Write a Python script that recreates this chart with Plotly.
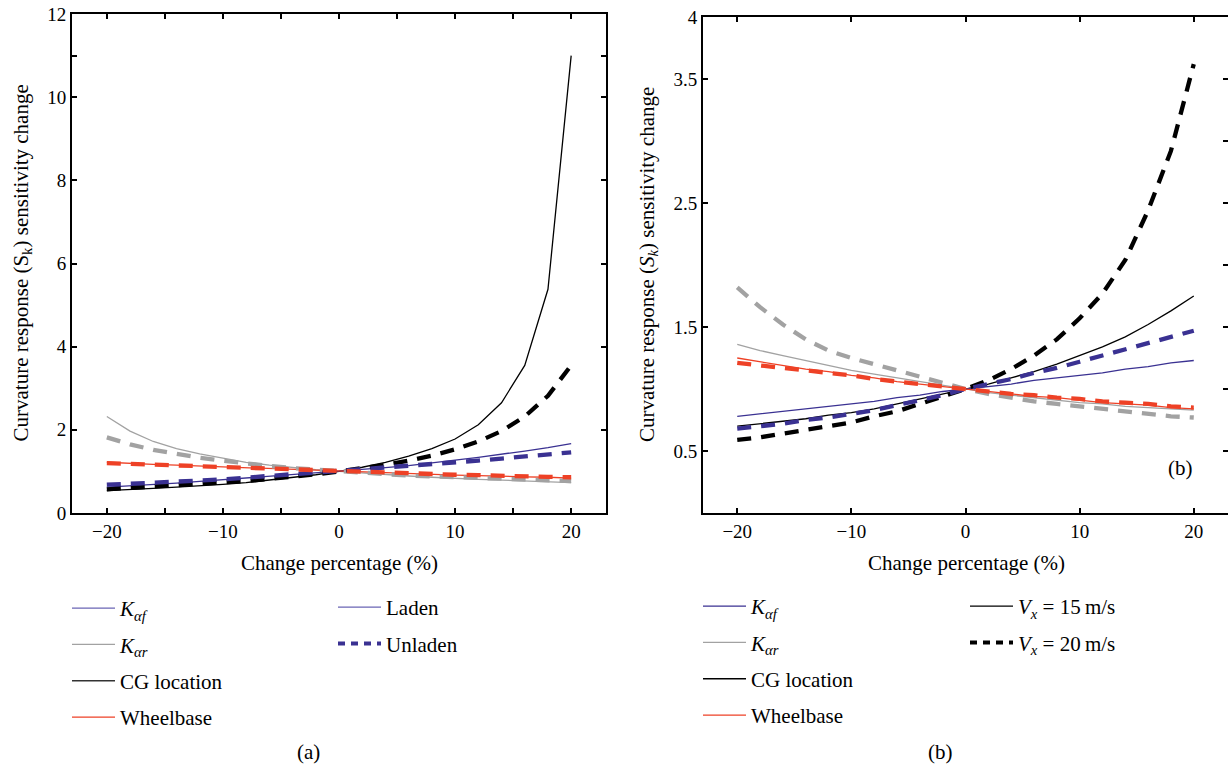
import plotly.graph_objects as go

W, H = 1228, 769
FONT = "Liberation Serif, Times New Roman, serif"

# ---------------- data ----------------
x_pct = [-20, -18, -16, -14, -12, -10, -8, -6, -4, -2, 0, 2, 4, 6, 8, 10, 12, 14, 16, 18, 20]

# (a) laden (solid) / unladen (dashed)
a_kaf_laden = [0.62, 0.65, 0.68, 0.72, 0.76, 0.80, 0.84, 0.88, 0.92, 0.96, 1.0, 1.04, 1.09, 1.14, 1.20, 1.27, 1.34, 1.41, 1.49, 1.57, 1.67]
a_kaf_unladen = [0.68, 0.70, 0.72, 0.75, 0.78, 0.81, 0.85, 0.88, 0.92, 0.96, 1.0, 1.04, 1.08, 1.12, 1.17, 1.21, 1.26, 1.31, 1.36, 1.41, 1.46]
a_kar_laden = [2.32, 1.97, 1.72, 1.55, 1.42, 1.32, 1.22, 1.15, 1.09, 1.04, 1.0, 0.96, 0.92, 0.89, 0.86, 0.83, 0.81, 0.79, 0.77, 0.75, 0.73]
a_kar_unladen = [1.82, 1.65, 1.52, 1.42, 1.33, 1.26, 1.19, 1.13, 1.08, 1.04, 1.0, 0.96, 0.93, 0.90, 0.88, 0.86, 0.84, 0.82, 0.80, 0.79, 0.77]
a_cg_laden = [0.54, 0.56, 0.59, 0.62, 0.65, 0.69, 0.73, 0.79, 0.85, 0.92, 1.0, 1.10, 1.22, 1.37, 1.55, 1.78, 2.12, 2.65, 3.55, 5.38, 11.0]
a_cg_unladen = [0.57, 0.60, 0.63, 0.66, 0.69, 0.73, 0.77, 0.82, 0.87, 0.93, 1.0, 1.07, 1.16, 1.26, 1.38, 1.53, 1.72, 1.97, 2.32, 2.82, 3.55]
a_wb_laden = [1.22, 1.19, 1.17, 1.15, 1.13, 1.11, 1.08, 1.06, 1.04, 1.02, 1.0, 0.98, 0.96, 0.95, 0.93, 0.91, 0.90, 0.88, 0.87, 0.86, 0.84]
a_wb_unladen = [1.20, 1.18, 1.16, 1.14, 1.12, 1.10, 1.08, 1.06, 1.04, 1.02, 1.0, 0.98, 0.97, 0.95, 0.94, 0.92, 0.91, 0.89, 0.88, 0.87, 0.86]

# (b) Vx = 15 m/s (solid) / Vx = 20 m/s (dashed)
b_kaf_15 = [0.78, 0.80, 0.82, 0.84, 0.86, 0.88, 0.90, 0.93, 0.95, 0.98, 1.0, 1.02, 1.04, 1.07, 1.09, 1.11, 1.13, 1.16, 1.18, 1.21, 1.23]
b_kaf_20 = [0.68, 0.70, 0.72, 0.75, 0.77, 0.80, 0.83, 0.87, 0.91, 0.95, 1.0, 1.04, 1.08, 1.13, 1.17, 1.22, 1.27, 1.32, 1.37, 1.42, 1.47]
b_kar_15 = [1.36, 1.31, 1.27, 1.23, 1.19, 1.15, 1.12, 1.09, 1.06, 1.03, 1.0, 0.97, 0.95, 0.93, 0.91, 0.89, 0.88, 0.86, 0.85, 0.84, 0.83]
b_kar_20 = [1.82, 1.66, 1.52, 1.40, 1.31, 1.25, 1.20, 1.15, 1.10, 1.05, 1.0, 0.96, 0.93, 0.90, 0.88, 0.86, 0.84, 0.82, 0.80, 0.78, 0.77]
b_cg_15 = [0.70, 0.72, 0.74, 0.76, 0.79, 0.81, 0.84, 0.88, 0.92, 0.96, 1.0, 1.04, 1.09, 1.14, 1.20, 1.27, 1.34, 1.42, 1.52, 1.63, 1.75]
b_cg_20 = [0.59, 0.61, 0.64, 0.67, 0.70, 0.73, 0.78, 0.82, 0.88, 0.94, 1.0, 1.07, 1.16, 1.27, 1.40, 1.57, 1.77, 2.04, 2.44, 2.92, 3.62]
b_wb_15 = [1.25, 1.22, 1.19, 1.16, 1.14, 1.11, 1.09, 1.06, 1.04, 1.02, 1.0, 0.98, 0.96, 0.94, 0.93, 0.91, 0.89, 0.88, 0.87, 0.85, 0.84]
b_wb_20 = [1.21, 1.19, 1.17, 1.15, 1.13, 1.11, 1.08, 1.06, 1.04, 1.02, 1.0, 0.98, 0.96, 0.95, 0.93, 0.92, 0.90, 0.89, 0.88, 0.86, 0.85]

a_xticks = [-20, -15, -10, -5, 0, 5, 10, 15, 20]
a_xticktext = ["\u221220", "", "\u221210", "", "0", "", "10", "", "20"]
a_yticks = [0, 2, 4, 6, 8, 10, 11, 12]
a_yticktext = ["0", "2", "4", "6", "8", "10", "", "12"]
b_xticks = [-20, -10, 0, 10, 20]
b_xticktext = ["\u221220", "\u221210", "0", "10", "20"]
b_yticks = [0.5, 1.5, 2.5, 3.5, 4]
b_yticktext = ["0.5", "1.5", "2.5", "3.5", "4"]
b_yticks_right = [0.5, 1, 1.5, 2, 2.5, 3, 3.5]

# ---------------- styles ----------------
BLUE = "#3a3192"
GRAY = "#a2a2a2"
BLACK = "#000000"
RED = "#ee4126"
SOLID_W = 1.3
DASH_W = 4.3
DASH = "14px,10px"

fig = go.Figure()

def add(x, y, color, dashed, xa, ya):
    fig.add_trace(go.Scatter(
        x=x, y=y, mode="lines", xaxis=xa, yaxis=ya, showlegend=False,
        line=dict(color=color, width=DASH_W if dashed else SOLID_W,
                  dash=DASH if dashed else "solid"),
        hoverinfo="skip"))

# panel (a): solids then dashed
for ys, c in [(a_kar_laden, GRAY), (a_cg_laden, BLACK), (a_kaf_laden, BLUE), (a_wb_laden, RED)]:
    add(x_pct, ys, c, False, "x", "y")
for ys, c in [(a_kar_unladen, GRAY), (a_cg_unladen, BLACK), (a_kaf_unladen, BLUE), (a_wb_unladen, RED)]:
    add(x_pct, ys, c, True, "x", "y")

# panel (b)
for ys, c in [(b_kar_15, GRAY), (b_cg_15, BLACK), (b_kaf_15, BLUE), (b_wb_15, RED)]:
    add(x_pct, ys, c, False, "x2", "y2")
for ys, c in [(b_kar_20, GRAY), (b_cg_20, BLACK), (b_kaf_20, BLUE), (b_wb_20, RED)]:
    add(x_pct, ys, c, True, "x2", "y2")

# invisible trace so the right-hand tick axis of panel (b) is drawn
fig.add_trace(go.Scatter(x=[None], y=[None], xaxis="x2", yaxis="y3", showlegend=False,
                         hoverinfo="skip"))

# legend-only entries
def leg(name, color, legend, dash="solid", width=1.3, grp=None):
    fig.add_trace(go.Scatter(
        x=[None], y=[None], mode="lines", name=name, legend=legend,
        legendgroup=grp or (legend + name),
        line=dict(color=color, width=width, dash=dash), xaxis="x", yaxis="y"))

KAF = "<i>K<sub>\u03b1f</sub></i>"
KAR = "<i>K<sub>\u03b1r</sub></i>"
leg(KAF, "#6a64b4", "legend")
leg(KAR, GRAY, "legend")
leg("CG location", "#333333", "legend")
leg("Wheelbase", RED, "legend")
leg("Laden", "#6a64b4", "legend2")
leg("Unladen", BLUE, "legend2", dash="7px,6px", width=4)
leg(KAF, BLUE, "legend3")
leg(KAR, GRAY, "legend3")
leg("CG location", BLACK, "legend3")
leg("Wheelbase", RED, "legend3")
leg("<i>V<sub>x</sub></i> = 15\u2009m/s", BLACK, "legend4")
leg("<i>V<sub>x</sub></i> = 20\u2009m/s", BLACK, "legend4", dash="7px,6px", width=4)

def px(x):
    return x / W

def py(y):
    return 1 - y / H

axis_common = dict(showline=True, linecolor="black", linewidth=2, mirror="ticks",
                   ticks="inside", ticklen=5, tickwidth=1.5, tickcolor="black",
                   showgrid=False, zeroline=False, automargin=False,
                   tickfont=dict(family=FONT, size=19, color="black"))

legend_common = dict(font=dict(family=FONT, size=21, color="black"), bgcolor="rgba(0,0,0,0)",
                     borderwidth=0, xanchor="left", yanchor="top", orientation="v",
                     traceorder="grouped", tracegroupgap=6, itemwidth=43, itemclick=False)

y2_common = dict(axis_common)
y2_common["mirror"] = False

fig.update_layout(
    template="none",
    width=W, height=H, margin=dict(l=0, r=0, t=0, b=0, pad=0), autosize=False,
    paper_bgcolor="white", plot_bgcolor="white",
    font=dict(family=FONT, size=21, color="black"),
    xaxis=dict(domain=[px(72), px(606)], range=[-23, 23], tickvals=a_xticks, ticktext=a_xticktext,
               anchor="y", **axis_common),
    yaxis=dict(domain=[py(513), py(14)], range=[0, 12], tickvals=a_yticks, ticktext=a_yticktext,
               anchor="x", **axis_common),
    xaxis2=dict(domain=[px(703), 1.0], range=[-23, 23], tickvals=b_xticks, ticktext=b_xticktext,
                anchor="y2", **axis_common),
    yaxis2=dict(domain=[py(513), py(17)], range=[0, 4], tickvals=b_yticks, ticktext=b_yticktext,
                anchor="x2", **y2_common),
    yaxis3=dict(range=[0, 4], overlaying="y2", side="right", anchor="x2",
                tickvals=b_yticks_right, showticklabels=False,
                showline=True, linecolor="black", linewidth=2, ticks="inside", ticklen=5,
                tickwidth=1.5, tickcolor="black", showgrid=False, zeroline=False,
                automargin=False),
    legend=dict(x=px(67), y=py(588), **legend_common),
    legend2=dict(x=px(333), y=py(587), **legend_common),
    legend3=dict(x=px(698), y=py(586), **legend_common),
    legend4=dict(x=px(965), y=py(586), **legend_common),
)

ann_font = dict(family=FONT, size=21, color="black")
annotations = [
    dict(text="Curvature response (S<sub>k</sub>) sensitivity change", x=px(21), y=py(263.5),
         textangle=-90),
    dict(text="Curvature response (<i>S<sub>k</sub></i>) sensitivity change", x=px(648), y=py(265),
         textangle=-90),
    dict(text="Change percentage (%)", x=px(339), y=py(563)),
    dict(text="Change percentage (%)", x=px(966), y=py(563)),
    dict(text="(a)", x=px(308), y=py(752)),
    dict(text="(b)", x=px(940), y=py(752)),
    dict(text="(b)", x=px(1180), y=py(468)),
]
for a in annotations:
    fig.add_annotation(xref="paper", yref="paper", showarrow=False, xanchor="center",
                       yanchor="middle", font=ann_font, **a)

fig.write_html("out.html")
